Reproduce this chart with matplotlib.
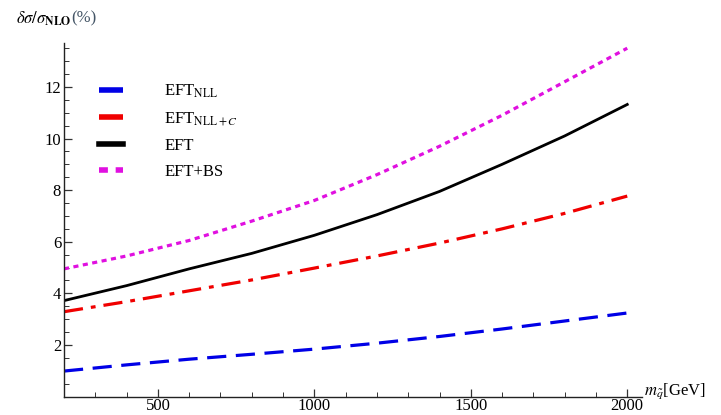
import numpy as np
import matplotlib
matplotlib.use('Agg')
from matplotlib import pyplot as plt
from matplotlib.ticker import MultipleLocator

plt.rcParams['font.family'] = ['Liberation Serif', 'DejaVu Serif']
plt.rcParams['mathtext.fontset'] = 'stix'

# squark mass (GeV) and relative corrections (%)
m_sq = [200, 400, 600, 800, 1000, 1200, 1400, 1600, 1800, 2000]
eft_nll = [0.99, 1.23, 1.45, 1.64, 1.84, 2.07, 2.33, 2.62, 2.93, 3.24]
eft_nll_c = [3.29, 3.68, 4.10, 4.52, 4.98, 5.45, 5.95, 6.50, 7.10, 7.77]
eft = [3.72, 4.30, 4.95, 5.55, 6.25, 7.05, 7.95, 9.00, 10.10, 11.32]
eft_bs = [4.95, 5.45, 6.05, 6.80, 7.60, 8.60, 9.70, 10.90, 12.20, 13.50]
labels = [r'EFT$_{\mathrm{NLL}}$', r'EFT$_{\mathrm{NLL}+C}$', 'EFT', 'EFT+BS']

fig = plt.figure(figsize=(7.21, 4.15), dpi=100)
ax = fig.add_axes([0.0888, 0.0443, 0.802, 0.852])

ax.plot(m_sq, eft_nll, color='#0000e6', lw=2.3, dashes=(6, 3), label=labels[0])
ax.plot(m_sq, eft_nll_c, color='#f00000', lw=2.3, dashes=(6, 2.5, 1.5, 2.5), label=labels[1])
ax.plot(m_sq, eft, color='black', lw=2.0, label=labels[2])
ax.plot(m_sq, eft_bs, color='#e010e0', lw=2.3, dashes=(1.6, 1.4), label=labels[3])

ax.set_xlim(200, 2048)
ax.set_ylim(0, 13.7)
ax.xaxis.set_minor_locator(MultipleLocator(100))
ax.yaxis.set_minor_locator(MultipleLocator(0.5))
ax.set_yticks([2, 4, 6, 8, 10, 12])
ax.set_xticks([500, 1000, 1500, 2000])
ax.tick_params(which='both', direction='in', labelsize=12, color='#333333')
ax.tick_params(which='major', length=6, width=0.9)
ax.tick_params(which='minor', length=3.5, width=0.7)
ax.tick_params(axis='x', pad=1)
ax.tick_params(axis='y', pad=2)
for s in ['top', 'right']:
    ax.spines[s].set_visible(False)
for s in ['left', 'bottom']:
    ax.spines[s].set_linewidth(1.0)
    ax.spines[s].set_color('#222222')

fig.text(0.022, 0.955, r'$\delta\sigma/\sigma_{\mathbf{NLO}}$', fontsize=12, va='center')
fig.text(0.099, 0.955, '(%)', fontsize=12, va='center', color='#445566')
fig.text(0.893, 0.058, r'$m_{\tilde{q}}$[GeV]', fontsize=12, va='center')

leg = ax.legend(loc='upper left', bbox_to_anchor=(0.035, 0.93), frameon=False,
                fontsize=12, handlelength=1.4, handletextpad=2.5, labelspacing=0.6)
for h in leg.legend_handles:
    h.set_linewidth(4)

fig.savefig('out.png', dpi=100)
